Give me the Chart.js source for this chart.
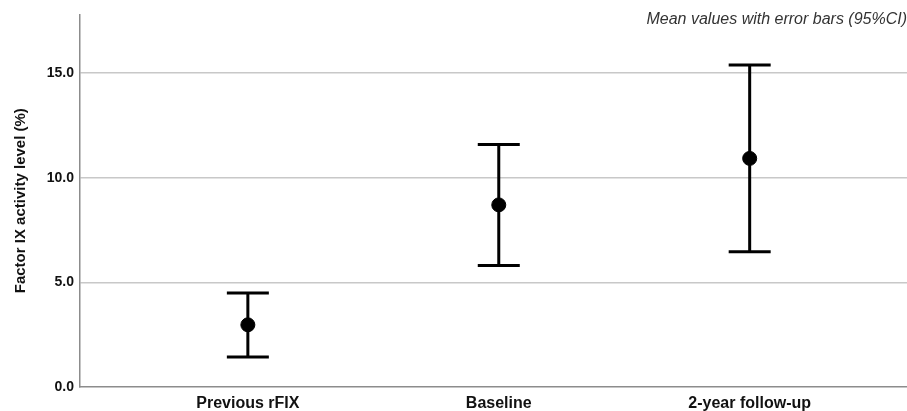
<!DOCTYPE html>
<html>
<head>
<meta charset="utf-8">
<script src="https://cdn.jsdelivr.net/npm/chart.js@4.4.1/dist/chart.umd.min.js"></script>
<style>
  html, body { margin: 0; padding: 0; background: #ffffff; }
  #wrap { position: relative; width: 907px; height: 411px; }
</style>
</head>
<body>
<div id="wrap"><canvas id="c" width="907" height="411"></canvas></div>
<script>
const categories = ["Previous rFIX", "Baseline", "2-year follow-up"];
const meanValues = [2.97, 8.70, 10.92];
const lowerCI = [1.43, 5.81, 6.46];
const upperCI = [4.49, 11.59, 15.38];
const yTicks = [0, 5, 10, 15];
const yTitle = "Factor IX activity level (%)";
const noteText = "Mean values with error bars (95%CI)";

const errorBarPlugin = {
  id: 'errorBars',
  afterDatasetsDraw(chart) {
    const ctx = chart.ctx;
    const xs = chart.scales.x, ys = chart.scales.y;
    ctx.save();
    ctx.strokeStyle = '#000000';
    ctx.lineWidth = 3;
    ctx.lineCap = 'butt';
    for (let i = 0; i < categories.length; i++) {
      const x = xs.getPixelForValue(i);
      const yl = ys.getPixelForValue(lowerCI[i]);
      const yu = ys.getPixelForValue(upperCI[i]);
      ctx.beginPath();
      ctx.moveTo(x, yl); ctx.lineTo(x, yu);
      ctx.moveTo(x - 21, yl); ctx.lineTo(x + 21, yl);
      ctx.moveTo(x - 21, yu); ctx.lineTo(x + 21, yu);
      ctx.stroke();
    }
    ctx.restore();
  }
};

new Chart(document.getElementById('c'), {
  type: 'scatter',
  data: {
    datasets: [{
      data: meanValues.map((v, i) => ({ x: i, y: v })),
      backgroundColor: '#000000',
      borderColor: '#000000',
      pointRadius: 7,
      pointHoverRadius: 7
    }]
  },
  options: {
    responsive: false,
    animation: false,
    devicePixelRatio: 1,
    layout: { autoPadding: false, padding: { top: 0, right: 0, left: 0, bottom: 0 } },
    plugins: {
      legend: { display: false },
      tooltip: { enabled: false },
      title: {
        display: true,
        text: noteText,
        align: 'end',
        color: '#333333',
        font: { family: 'Liberation Sans, Arial, sans-serif', size: 16, style: 'italic', weight: 'normal', lineHeight: 1.1 },
        padding: { top: 10.5, bottom: -14.1 }
      }
    },
    scales: {
      x: {
        type: 'linear',
        min: -0.669,
        max: 2.627,
        afterBuildTicks(scale) { scale.ticks = categories.map((c, i) => ({ value: i })); },
        afterFit(scale) { scale.height = 24; },
        ticks: {
          callback: (v) => categories[v] !== undefined ? categories[v] : '',
          color: '#111111',
          font: { family: 'Liberation Sans, Arial, sans-serif', size: 16, weight: 'bold' },
          padding: 7,
          maxRotation: 0,
          autoSkip: false
        },
        grid: { display: false, drawTicks: false },
        border: { display: true, color: '#8c8c8c', width: 1.5 }
      },
      y: {
        min: 0,
        max: 17.8,
        afterBuildTicks(scale) { scale.ticks = yTicks.map(v => ({ value: v })); },
        afterFit(scale) { scale.width = 80; },
        ticks: {
          callback: (v) => v.toFixed(1),
          color: '#111111',
          font: { family: 'Liberation Sans, Arial, sans-serif', size: 14, weight: 'bold' },
          padding: 6
        },
        title: {
          display: true,
          text: yTitle,
          color: '#111111',
          font: { family: 'Liberation Sans, Arial, sans-serif', size: 15, weight: 'bold' },
          padding: { top: 12, bottom: 0 }
        },
        grid: {
          drawTicks: false,
          color: (ctx) => (ctx.tick && ctx.tick.value === 0) ? 'rgba(0,0,0,0)' : '#c8c8c8',
          lineWidth: 1.5
        },
        border: { display: true, color: '#8c8c8c', width: 1.5 }
      }
    }
  },
  plugins: [errorBarPlugin]
});
</script>
</body>
</html>
